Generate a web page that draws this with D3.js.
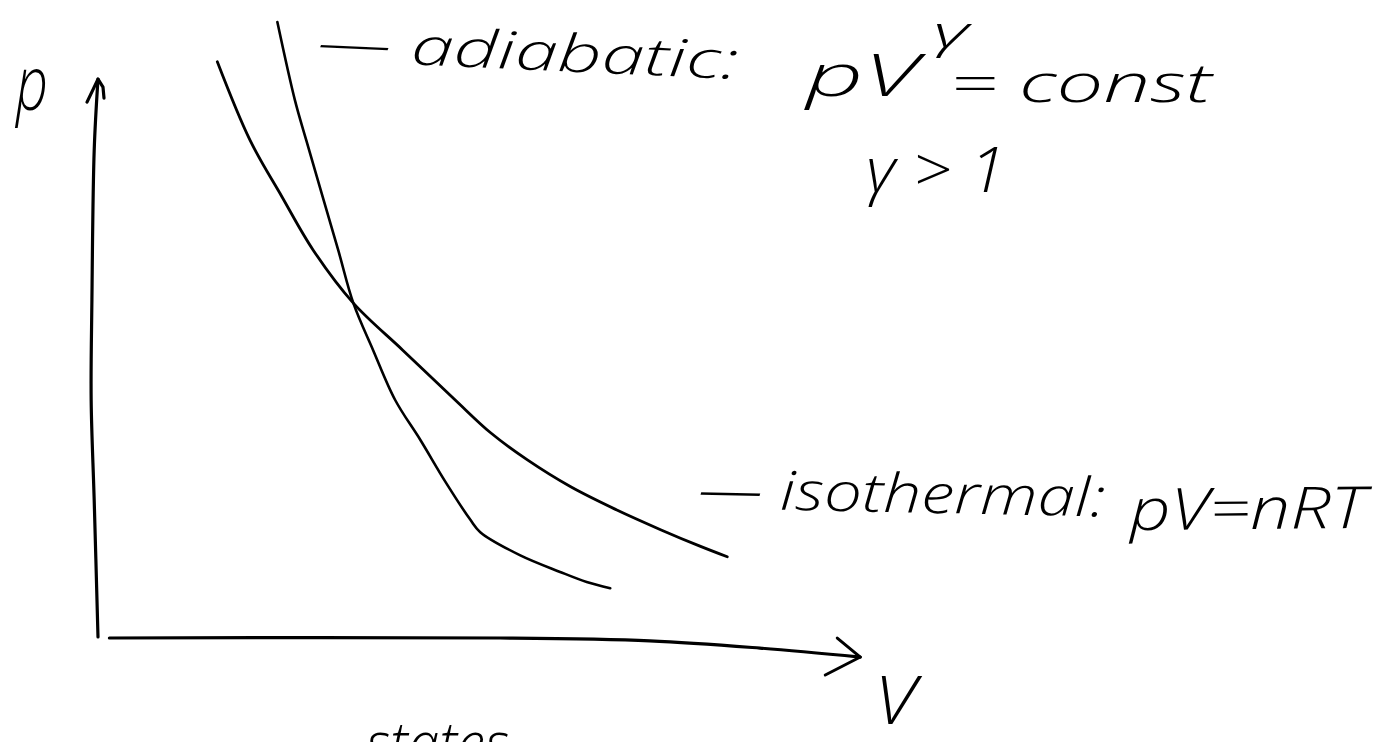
<!DOCTYPE html>
<html>
<head>
<meta charset="utf-8">
<script src="https://cdn.jsdelivr.net/npm/d3@7"></script>
<style>
  html, body { margin: 0; background: #fff; }
  svg { display: block; }
  text { font-family: "Open Sans", "DejaVu Sans", sans-serif; font-style: italic; font-weight: 300; fill: #000; }
</style>
</head>
<body>
<svg id="chart" width="1383" height="742"></svg>
<script>
// Isothermal curve, pV = nRT (volume, pressure in arbitrary units)
const isothermV = [1.57, 2.00, 2.42, 2.83, 3.36, 4.01, 4.70, 5.17, 5.65, 6.22, 6.82, 7.41, 7.92, 8.28];
const isothermP = [10.29, 8.89, 7.88, 6.93, 5.98, 5.14, 4.25, 3.66, 3.18, 2.70, 2.29, 1.93, 1.64, 1.45];

// Adiabatic curve, pV^γ = const, γ > 1 (steeper through the shared point)
const adiabatV = [2.36, 2.59, 2.74, 3.16, 3.36, 3.62, 3.91, 4.24, 4.58, 4.90, 5.03, 5.55, 6.08, 6.43, 6.74];
const adiabatP = [11.00, 9.61, 8.89, 6.93, 5.98, 5.14, 4.25, 3.54, 2.77, 2.11, 1.89, 1.48, 1.18, 1.00, 0.89];

// Freehand axis strokes
const yAxisV = [0.00, -0.05, -0.08, -0.09, -0.05, 0.00];
const yAxisP = [9.98, 8.71, 6.04, 4.25, 2.46, 0.02];
const xAxisV = [0.15, 5.29, 7.26, 8.71, 10.03];
const xAxisP = [0.00, 0.00, -0.05, -0.18, -0.34];

// Annotation strings
const axisTitles = ["p", "V"];
const adiabatLabel = ["— adiabatic:", "pV", "γ", "= const", "γ > 1"];
const isothermLabel = ["— isothermal:", "pV=nRT"];
const footerText = "states";

const svg = d3.select("#chart");

const x = d3.scaleLinear().domain([0, 10]).range([98, 858]);
const y = d3.scaleLinear().domain([0, 10]).range([638, 78]);

const zip = (vs, ps) => vs.map((v, i) => [v, ps[i]]);
const line = d3.line().x(d => x(d[0])).y(d => y(d[1])).curve(d3.curveCatmullRom.alpha(0.5));

const ink = g => g.attr("fill", "none").attr("stroke", "#000")
  .attr("stroke-linecap", "round").attr("stroke-linejoin", "round");

// Axes
svg.append("path").datum(zip(yAxisV, yAxisP)).attr("d", line).call(ink).attr("stroke-width", 3.2);
svg.append("path").datum(zip(xAxisV, xAxisP)).attr("d", line).call(ink).attr("stroke-width", 3.2);

// Arrow heads at the ends of the axes
const yTip = [x(yAxisV[0]), y(yAxisP[0])];
svg.append("path").call(ink).attr("stroke-width", 3.2)
  .attr("d", `M${yTip[0] - 11},${yTip[1] + 23} L${yTip[0]},${yTip[1]} L${yTip[0] + 5},${yTip[1] + 8} L${yTip[0] + 6},${yTip[1] + 19}`);
const n = xAxisV.length - 1;
const xTip = [x(xAxisV[n]), y(xAxisP[n])];
svg.append("path").call(ink).attr("stroke-width", 3)
  .attr("d", `M${xTip[0] - 23},${xTip[1] - 19} L${xTip[0]},${xTip[1]} L${xTip[0] - 35},${xTip[1] + 18}`);

// Curves
svg.append("path").datum(zip(isothermV, isothermP)).attr("d", line).call(ink).attr("stroke-width", 2.8);
svg.append("path").datum(zip(adiabatV, adiabatP)).attr("d", line).call(ink).attr("stroke-width", 2.6);

// Text helper
function label(str, px, py, size, width, angle) {
  const t = svg.append("text").attr("x", px).attr("y", py)
    .attr("font-size", size).text(str);
  if (width) t.attr("textLength", width).attr("lengthAdjust", "spacingAndGlyphs");
  if (angle) t.attr("transform", `rotate(${angle},${px},${py})`);
  return t;
}

// Axis titles
label(axisTitles[0], 16, 110, 76, 32);
label(axisTitles[1], 874, 724, 66, 42);

// Adiabatic annotation
label(adiabatLabel[0], 317, 60, 52, 421, 2.6);
label(adiabatLabel[1], 806, 96, 58, 112);
label(adiabatLabel[2], 933, 48, 44, 36);
label(adiabatLabel[3], 950, 102, 54, 262);
label(adiabatLabel[4], 866, 192, 62, 140);

// Isothermal annotation
label(isothermLabel[0], 698, 508, 54, 407, 1.2);
label(isothermLabel[1], 1130, 530, 58, 236, -0.5);

// Next line of the page, cut by the bottom edge
label(footerText, 366, 764, 58, 143);
</script>
</body>
</html>
